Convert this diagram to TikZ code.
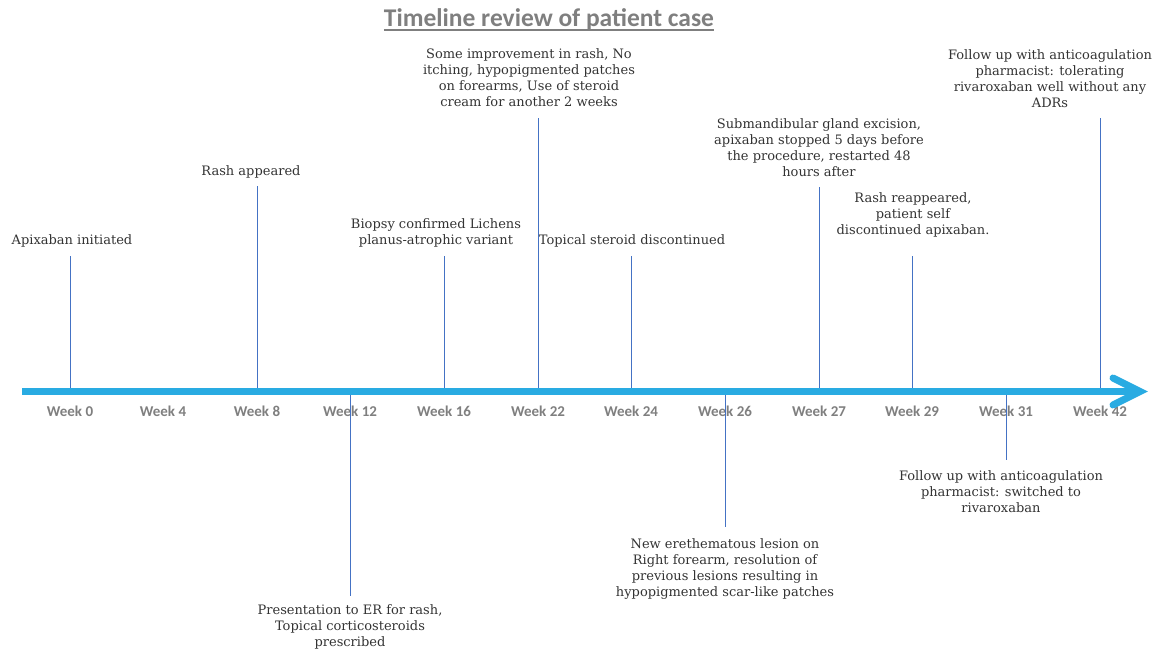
\documentclass[tikz,border=0pt]{standalone}
\usepackage{fontspec}
\setmainfont{DejaVu Serif}
\newfontfamily\carlito{Carlito}
\definecolor{axisblue}{HTML}{29ABE2}
\definecolor{tickblue}{HTML}{4472C4}
\definecolor{wkgray}{HTML}{7F7F7F}
\definecolor{txtgray}{HTML}{333333}
\begin{document}
\begin{tikzpicture}[x=1pt,y=-1pt,
  evt/.style={font=\fontsize{13}{16.3}\selectfont, text=txtgray, align=center, inner sep=0pt, anchor=north},
  wk/.style={font=\carlito\bfseries\fontsize{15}{17}\selectfont, text=wkgray, inner sep=0pt},
  tick/.style={draw=tickblue, line width=0.8pt},
  axis/.style={draw=axisblue, line width=7pt}]
\useasboundingbox (0,0) rectangle (1160,652);
% title
\node (title) [font=\carlito\bfseries\fontsize{25.5}{28}\selectfont, text=wkgray, inner sep=0pt] at (549,19.5) {Timeline review of patient case};
\draw[wkgray, line width=2pt] ([yshift=-3.5pt]title.base west) -- ([yshift=-3.5pt]title.base east);
% week labels
\foreach \x/\w in {70/0,163/4,257/8,350/12,444/16,538/22,631/24,725/26,819/27,912/29,1006/31,1100/42}
  \node (wk\w) [wk] at (\x,411) {Week \w};
% event texts
\node (t1) [evt] at (72,234) {Apixaban initiated};
\node (t2) [evt] at (251,165) {Rash appeared};
\node (t3) [evt] at (350,604) {Presentation to ER for rash,\\Topical corticosteroids\\prescribed};
\node (t4) [evt] at (436,218) {Biopsy confirmed Lichens\\planus-atrophic variant};
\node (t5) [evt] at (529,48) {Some improvement in rash, No\\itching, hypopigmented patches\\on forearms, Use of steroid\\cream for another 2 weeks};
\node (t6) [evt] at (632,234) {Topical steroid discontinued};
\node (t7) [evt] at (725,538) {New erethematous lesion on\\Right forearm, resolution of\\previous lesions resulting in\\hypopigmented scar-like patches};
\node (t8) [evt] at (819,118) {Submandibular gland excision,\\apixaban stopped 5 days before\\the procedure, restarted 48\\hours after};
\node (t9) [evt] at (913,192) {Rash reappeared,\\patient self\\discontinued apixaban.};
\node (t10) [evt] at (1001,470) {Follow up with anticoagulation\\pharmacist: switched to\\rivaroxaban};
\node (t11) [evt] at (1050,49) {Follow up with anticoagulation\\pharmacist: tolerating\\rivaroxaban well without any\\ADRs};
% anchor points on the axis and free ends of the ticks
\foreach \n/\x/\y in {1/70/256,2/257/186,3/350/596,4/444/256,5/538/118,6/631/256,7/725/527,8/819/187,9/912/256,10/1006/460,11/1100/118}{
  \coordinate (a\n) at (\x,391.5);
  \coordinate (e\n) at (\x,\y);
}
\foreach \n in {1,...,11} \draw[tick] (a\n) -- (e\n);
% axis
\coordinate (axL) at (22,391.5);
\coordinate (axR) at (1137,391.5);
\coordinate (chU) at (1113,378);
\coordinate (chD) at (1113,405);
\draw[axis] (axL) -- (axR);
\draw[axis, line cap=round, line join=miter] (chU) -- (1140,391.5) -- (chD);
\end{tikzpicture}
\end{document}
